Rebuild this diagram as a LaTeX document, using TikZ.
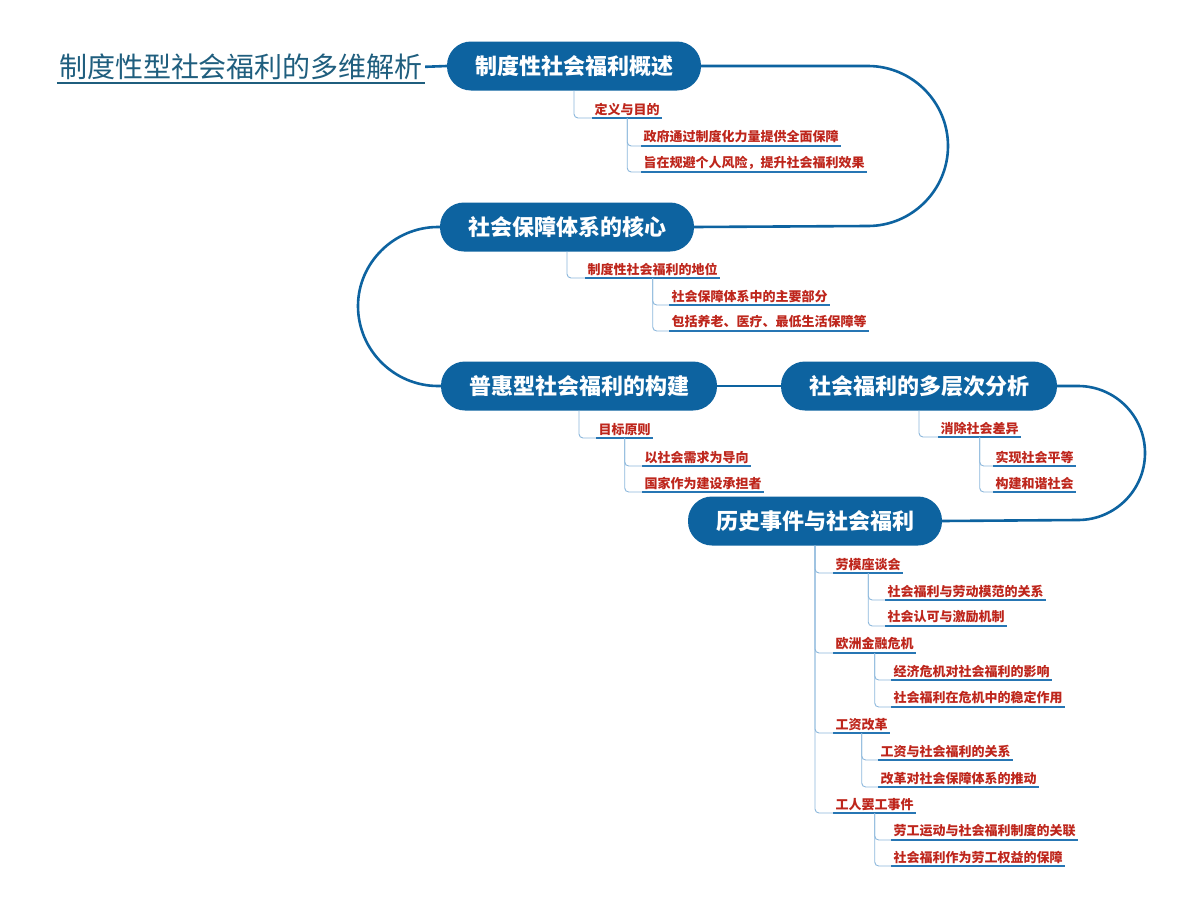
\documentclass[tikz,border=0pt]{standalone}
\usepackage{fontspec}
\newfontfamily\cjk{Noto Sans CJK SC}
\definecolor{topicblue}{RGB}{13,99,160}
\definecolor{titleteal}{RGB}{31,94,126}
\definecolor{leafred}{RGB}{190,38,28}
\definecolor{lineblue}{RGB}{38,118,180}
\definecolor{branchblue}{RGB}{140,184,220}
\begin{document}
\begin{tikzpicture}[x=1pt,y=-1pt,
    topic/.style={fill=topicblue,text=white,rounded corners=24pt,minimum height=49pt,
      inner xsep=28pt,font=\cjk\bfseries\fontsize{22}{24}\selectfont},
    leaf/.style={anchor=south west,inner xsep=2.5pt,inner ysep=2.5pt,text=leafred,
      font=\cjk\bfseries\fontsize{13}{15}\selectfont,
      append after command={(\tikzlastnode.south west) edge[ulink] (\tikzlastnode.south east)}},
    ulink/.style={draw=lineblue,line width=1.6pt},
    branch/.style={draw=branchblue,line width=0.9pt,rounded corners=4pt},
    trunk/.style={draw=topicblue,line width=2.6pt}]
  \fill[white] (0,0) rectangle (1200,910);
  % title
  \node[anchor=south,inner xsep=2pt,inner ysep=3pt,text=titleteal,
    font=\cjk\fontsize{28}{30}\selectfont] (title) at (241,83) {制度性型社会福利的多维解析};
  \draw[titleteal,line width=1.2pt] (title.south west) -- (title.south east);
  % main topics
  \node[topic] (over) at (574,66) {制度性社会福利概述};
  \node[topic] (core) at (567,227) {社会保障体系的核心};
  \node[topic] (univ) at (579,386) {普惠型社会福利的构建};
  \node[topic] (multi) at (919,386) {社会福利的多层次分析};
  \node[topic] (hist) at (815,521) {历史事件与社会福利};
  \coordinate (r1) at (868,66);
  \coordinate (r2) at (868,226);
  \coordinate (l1) at (438,227);
  \coordinate (l2) at (438,386);
  \coordinate (s1) at (1078,386);
  \coordinate (s2) at (1078,520);
  \draw[trunk] (title.east) -- (over.west);
  \draw[trunk] (over.east) -- (r1) .. controls (912,66) and (948,102) .. (948,146)
    .. controls (948,190) and (912,226) .. (r2) -- (core.east);
  \draw[trunk] (core.west) -- (l1) .. controls (394,227) and (358,263) .. (358,306)
    .. controls (358,350) and (394,386) .. (l2) -- (univ.west);
  \draw[trunk] (univ.east) -- (multi.west);
  \draw[trunk] (multi.east) -- (s1) .. controls (1115,386) and (1145,416) .. (1145,453)
    .. controls (1145,490) and (1115,520) .. (s2) -- (hist.east);
  % leaves of the first topic
  \node[leaf] (aim) at (592,118) {定义与目的};
  \node[leaf] (aim1) at (641,146) {政府通过制度化力量提供全面保障};
  \node[leaf] (aim2) at (641,172) {旨在规避个人风险，提升社会福利效果};
  \draw[branch] (over.south) |- (aim.south west);
  \draw[branch] (aim.south) |- (aim1.south west);
  \draw[branch] (aim.south) |- (aim2.south west);
  % leaves of the second topic
  \node[leaf] (role) at (585,278) {制度性社会福利的地位};
  \node[leaf] (role1) at (669,305) {社会保障体系中的主要部分};
  \node[leaf] (role2) at (669,331) {包括养老、医疗、最低生活保障等};
  \draw[branch] (core.south) |- (role.south west);
  \draw[branch] (role.south) |- (role1.south west);
  \draw[branch] (role.south) |- (role2.south west);
  % leaves of the third topic
  \node[leaf] (goal) at (596,438) {目标原则};
  \node[leaf] (goal1) at (642,466) {以社会需求为导向};
  \node[leaf] (goal2) at (642,492) {国家作为建设承担者};
  \draw[branch] (univ.south) |- (goal.south west);
  \draw[branch] (goal.south) |- (goal1.south west);
  \draw[branch] (goal.south) |- (goal2.south west);
  % leaves of the fourth topic
  \node[leaf] (gap) at (938,437) {消除社会差异};
  \node[leaf] (gap1) at (993,466) {实现社会平等};
  \node[leaf] (gap2) at (993,492) {构建和谐社会};
  \draw[branch] (multi.south) |- (gap.south west);
  \draw[branch] (gap.south) |- (gap1.south west);
  \draw[branch] (gap.south) |- (gap2.south west);
  % leaves of the fifth topic
  \node[leaf] (model) at (833,573) {劳模座谈会};
  \node[leaf] (model1) at (885,600) {社会福利与劳动模范的关系};
  \node[leaf] (model2) at (885,626) {社会认可与激励机制};
  \node[leaf] (euro) at (833,653) {欧洲金融危机};
  \node[leaf] (euro1) at (891,680) {经济危机对社会福利的影响};
  \node[leaf] (euro2) at (891,707) {社会福利在危机中的稳定作用};
  \node[leaf] (wage) at (833,733) {工资改革};
  \node[leaf] (wage1) at (878,760) {工资与社会福利的关系};
  \node[leaf] (wage2) at (878,787) {改革对社会保障体系的推动};
  \node[leaf] (strike) at (833,813) {工人罢工事件};
  \node[leaf] (strike1) at (891,840) {劳工运动与社会福利制度的关联};
  \node[leaf] (strike2) at (891,866) {社会福利作为劳工权益的保障};
  \foreach \k in {model,euro,wage,strike}{
    \draw[branch] (hist.south) |- (\k.south west);
    \draw[branch] (\k.south) |- (\k1.south west);
    \draw[branch] (\k.south) |- (\k2.south west);
  }
\end{tikzpicture}
\end{document}
